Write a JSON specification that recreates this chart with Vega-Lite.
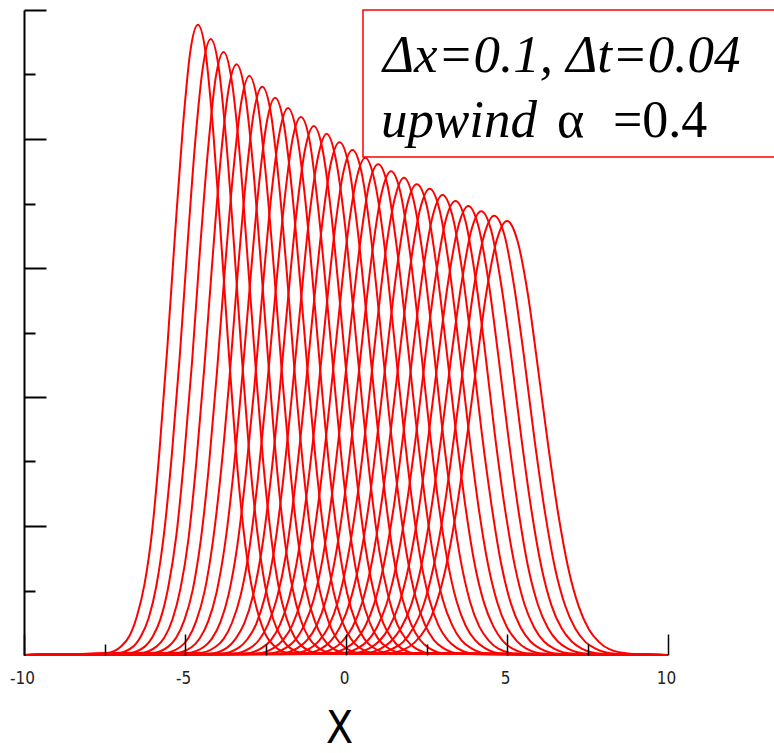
{
"$schema": "https://vega.github.io/schema/vega-lite/v6.json",
"width": 644, "height": 645,
"autosize": {"type": "none"},
"padding": {"left": 24, "top": 10, "right": 106, "bottom": 98},
"background": "white",
"config": {"view": {"stroke": null}},
"layer": [
{
"data": {"values": [
{"k":0,"x":[-10,-7.44,-6.97,-6.73,-6.50,-6.26,-6.02,-5.79,-5.55,-5.31,-5.07,-4.84,-4.6,-4.36,-4.13,-3.89,-3.65,-3.42,-3.18,-2.94,-2.70,-2.47,-2.23,-1.76,10],"y":[0,0.003,0.014,0.029,0.059,0.109,0.193,0.318,0.476,0.652,0.816,0.934,0.977,0.934,0.816,0.652,0.476,0.318,0.193,0.109,0.059,0.029,0.014,0.003,0]},
{"k":1,"x":[-10,-7.09,-6.61,-6.37,-6.13,-5.89,-5.65,-5.41,-5.16,-4.92,-4.68,-4.44,-4.2,-3.96,-3.72,-3.48,-3.24,-3.00,-2.75,-2.51,-2.27,-2.03,-1.79,-1.31,10],"y":[0,0.003,0.013,0.029,0.057,0.107,0.189,0.310,0.465,0.637,0.797,0.913,0.955,0.913,0.797,0.637,0.465,0.310,0.189,0.107,0.057,0.029,0.013,0.003,0]},
{"k":2,"x":[-10,-6.74,-6.25,-6.01,-5.76,-5.52,-5.27,-5.03,-4.78,-4.54,-4.29,-4.05,-3.8,-3.56,-3.31,-3.07,-2.82,-2.58,-2.33,-2.09,-1.84,-1.60,-1.35,-0.86,10],"y":[0,0.003,0.013,0.028,0.056,0.105,0.185,0.304,0.455,0.624,0.781,0.894,0.935,0.894,0.781,0.624,0.455,0.304,0.185,0.105,0.056,0.028,0.013,0.003,0]},
{"k":3,"x":[-10,-6.39,-5.89,-5.64,-5.39,-5.14,-4.89,-4.65,-4.40,-4.15,-3.90,-3.65,-3.4,-3.15,-2.90,-2.65,-2.40,-2.16,-1.91,-1.66,-1.41,-1.16,-0.91,-0.41,10],"y":[0,0.003,0.013,0.027,0.055,0.103,0.181,0.298,0.446,0.611,0.765,0.876,0.916,0.876,0.765,0.611,0.446,0.298,0.181,0.103,0.055,0.027,0.013,0.003,0]},
{"k":4,"x":[-10,-6.02,-5.52,-5.27,-5.02,-4.76,-4.51,-4.26,-4.01,-3.76,-3.50,-3.25,-3.0,-2.75,-2.50,-2.24,-1.99,-1.74,-1.49,-1.24,-0.98,-0.73,-0.48,0.02,10],"y":[0,0.003,0.013,0.027,0.054,0.101,0.178,0.292,0.437,0.599,0.750,0.858,0.898,0.858,0.750,0.599,0.437,0.292,0.178,0.101,0.054,0.027,0.013,0.003,0]},
{"k":5,"x":[-10,-5.67,-5.16,-4.90,-4.65,-4.39,-4.14,-3.88,-3.62,-3.37,-3.11,-2.86,-2.6,-2.34,-2.09,-1.83,-1.58,-1.32,-1.06,-0.81,-0.55,-0.30,-0.04,0.47,10],"y":[0,0.003,0.012,0.026,0.053,0.099,0.174,0.286,0.429,0.588,0.736,0.842,0.881,0.842,0.736,0.588,0.429,0.286,0.174,0.099,0.053,0.026,0.012,0.003,0]},
{"k":6,"x":[-10,-5.32,-4.80,-4.54,-4.28,-4.02,-3.76,-3.50,-3.24,-2.98,-2.72,-2.46,-2.2,-1.94,-1.68,-1.42,-1.16,-0.90,-0.64,-0.38,-0.12,0.14,0.40,0.92,10],"y":[0,0.003,0.012,0.026,0.052,0.097,0.171,0.281,0.421,0.576,0.721,0.826,0.864,0.826,0.721,0.576,0.421,0.281,0.171,0.097,0.052,0.026,0.012,0.003,0]},
{"k":7,"x":[-10,-4.96,-4.43,-4.17,-3.90,-3.64,-3.38,-3.12,-2.85,-2.59,-2.33,-2.06,-1.8,-1.54,-1.27,-1.01,-0.75,-0.49,-0.22,0.04,0.30,0.57,0.83,1.36,10],"y":[0,0.003,0.012,0.025,0.051,0.095,0.168,0.276,0.413,0.566,0.708,0.811,0.848,0.811,0.708,0.566,0.413,0.276,0.168,0.095,0.051,0.025,0.012,0.003,0]},
{"k":8,"x":[-10,-4.60,-4.07,-3.80,-3.54,-3.27,-3.00,-2.74,-2.47,-2.20,-1.93,-1.67,-1.4,-1.13,-0.87,-0.60,-0.33,-0.07,0.20,0.47,0.74,1.00,1.27,1.80,10],"y":[0,0.003,0.012,0.025,0.050,0.093,0.165,0.271,0.406,0.556,0.696,0.797,0.834,0.797,0.696,0.556,0.406,0.271,0.165,0.093,0.050,0.025,0.012,0.003,0]},
{"k":9,"x":[-10,-4.24,-3.70,-3.43,-3.16,-2.89,-2.62,-2.35,-2.08,-1.81,-1.54,-1.27,-1.0,-0.73,-0.46,-0.19,0.08,0.35,0.62,0.89,1.16,1.43,1.70,2.24,10],"y":[0,0.002,0.011,0.025,0.049,0.092,0.162,0.267,0.399,0.547,0.685,0.784,0.820,0.784,0.685,0.547,0.399,0.267,0.162,0.092,0.049,0.025,0.011,0.002,0]},
{"k":10,"x":[-10,-3.89,-3.34,-3.07,-2.79,-2.52,-2.24,-1.97,-1.70,-1.42,-1.15,-0.87,-0.6,-0.33,-0.05,0.22,0.50,0.77,1.04,1.32,1.59,1.87,2.14,2.69,10],"y":[0,0.002,0.011,0.024,0.048,0.090,0.160,0.263,0.393,0.539,0.675,0.772,0.808,0.772,0.675,0.539,0.393,0.263,0.160,0.090,0.048,0.024,0.011,0.002,0]},
{"k":11,"x":[-10,-3.52,-2.97,-2.69,-2.42,-2.14,-1.86,-1.59,-1.31,-1.03,-0.75,-0.48,-0.2,0.08,0.35,0.63,0.91,1.19,1.46,1.74,2.02,2.29,2.57,3.12,10],"y":[0,0.002,0.011,0.024,0.048,0.089,0.157,0.258,0.387,0.530,0.664,0.760,0.795,0.760,0.664,0.530,0.387,0.258,0.157,0.089,0.048,0.024,0.011,0.002,0]},
{"k":12,"x":[-10,-3.17,-2.61,-2.33,-2.05,-1.77,-1.49,-1.21,-0.92,-0.64,-0.36,-0.08,0.2,0.48,0.76,1.04,1.32,1.61,1.89,2.17,2.45,2.73,3.01,3.57,10],"y":[0,0.002,0.011,0.023,0.047,0.088,0.155,0.254,0.381,0.522,0.654,0.749,0.783,0.749,0.654,0.522,0.381,0.254,0.155,0.088,0.047,0.023,0.011,0.002,0]},
{"k":13,"x":[-10,-2.81,-2.24,-1.96,-1.67,-1.39,-1.10,-0.82,-0.54,-0.25,0.03,0.32,0.6,0.88,1.17,1.45,1.74,2.02,2.30,2.59,2.87,3.16,3.44,4.01,10],"y":[0,0.002,0.011,0.023,0.046,0.086,0.153,0.251,0.375,0.514,0.644,0.737,0.771,0.737,0.644,0.514,0.375,0.251,0.153,0.086,0.046,0.023,0.011,0.002,0]},
{"k":14,"x":[-10,-2.44,-1.87,-1.58,-1.30,-1.01,-0.72,-0.44,-0.15,0.14,0.43,0.71,1.0,1.29,1.57,1.86,2.15,2.44,2.72,3.01,3.30,3.58,3.87,4.44,10],"y":[0,0.002,0.011,0.023,0.046,0.085,0.151,0.247,0.371,0.508,0.635,0.728,0.761,0.728,0.635,0.508,0.371,0.247,0.151,0.085,0.046,0.023,0.011,0.002,0]},
{"k":15,"x":[-10,-2.08,-1.50,-1.21,-0.92,-0.63,-0.34,-0.05,0.24,0.53,0.82,1.11,1.4,1.69,1.98,2.27,2.56,2.85,3.14,3.43,3.72,4.01,4.30,4.88,10],"y":[0,0.002,0.011,0.023,0.045,0.084,0.149,0.244,0.365,0.500,0.626,0.717,0.750,0.717,0.626,0.500,0.365,0.244,0.149,0.084,0.045,0.023,0.011,0.002,0]},
{"k":16,"x":[-10,-1.72,-1.13,-0.84,-0.54,-0.25,0.04,0.34,0.63,0.92,1.21,1.51,1.8,2.09,2.39,2.68,2.97,3.27,3.56,3.85,4.14,4.44,4.73,5.32,10],"y":[0,0.002,0.010,0.022,0.044,0.083,0.147,0.241,0.360,0.494,0.618,0.707,0.740,0.707,0.618,0.494,0.360,0.241,0.147,0.083,0.044,0.022,0.010,0.002,0]},
{"k":17,"x":[-10,-1.36,-0.77,-0.47,-0.18,0.12,0.42,0.72,1.01,1.31,1.61,1.90,2.2,2.50,2.79,3.09,3.39,3.69,3.98,4.28,4.58,4.87,5.17,5.76,10],"y":[0,0.002,0.010,0.022,0.044,0.082,0.145,0.237,0.356,0.487,0.610,0.698,0.730,0.698,0.610,0.487,0.356,0.237,0.145,0.082,0.044,0.022,0.010,0.002,0]},
{"k":18,"x":[-10,-1.00,-0.40,-0.10,0.20,0.50,0.80,1.10,1.40,1.70,2.00,2.30,2.6,2.90,3.20,3.50,3.80,4.10,4.40,4.70,5.00,5.30,5.60,6.20,10],"y":[0,0.002,0.010,0.022,0.043,0.081,0.143,0.235,0.352,0.482,0.604,0.691,0.723,0.691,0.604,0.482,0.352,0.235,0.143,0.081,0.043,0.022,0.010,0.002,0]},
{"k":19,"x":[-10,-0.64,-0.03,0.27,0.58,0.88,1.18,1.49,1.79,2.09,2.39,2.70,3.0,3.30,3.61,3.91,4.21,4.52,4.82,5.12,5.42,5.73,6.03,6.64,10],"y":[0,0.002,0.010,0.021,0.043,0.080,0.141,0.232,0.347,0.476,0.595,0.682,0.713,0.682,0.595,0.476,0.347,0.232,0.141,0.080,0.043,0.021,0.010,0.002,0]},
{"k":20,"x":[-10,-0.27,0.34,0.65,0.95,1.26,1.56,1.87,2.18,2.48,2.79,3.09,3.4,3.71,4.01,4.32,4.62,4.93,5.24,5.54,5.85,6.15,6.46,7.07,10],"y":[0,0.002,0.010,0.021,0.042,0.079,0.139,0.229,0.343,0.470,0.588,0.673,0.704,0.673,0.588,0.470,0.343,0.229,0.139,0.079,0.042,0.021,0.010,0.002,0]},
{"k":21,"x":[-10,0.09,0.71,1.02,1.33,1.64,1.95,2.26,2.56,2.87,3.18,3.49,3.8,4.11,4.42,4.73,5.04,5.35,5.65,5.96,6.27,6.58,6.89,7.51,10],"y":[0,0.002,0.010,0.021,0.042,0.078,0.138,0.226,0.339,0.464,0.581,0.665,0.696,0.665,0.581,0.464,0.339,0.226,0.138,0.078,0.042,0.021,0.010,0.002,0]},
{"k":22,"x":[-10,0.46,1.08,1.39,1.70,2.02,2.33,2.64,2.95,3.26,3.58,3.89,4.2,4.51,4.82,5.14,5.45,5.76,6.07,6.38,6.70,7.01,7.32,7.94,10],"y":[0,0.002,0.010,0.021,0.041,0.077,0.136,0.224,0.335,0.459,0.574,0.658,0.688,0.658,0.574,0.459,0.335,0.224,0.136,0.077,0.041,0.021,0.010,0.002,0]},
{"k":23,"x":[-10,0.82,1.45,1.77,2.08,2.40,2.71,3.03,3.34,3.66,3.97,4.29,4.6,4.92,5.23,5.55,5.86,6.18,6.49,6.81,7.12,7.44,7.75,8.38,10],"y":[0,0.002,0.010,0.020,0.041,0.076,0.135,0.221,0.332,0.454,0.569,0.651,0.681,0.651,0.569,0.454,0.332,0.221,0.135,0.076,0.041,0.020,0.010,0.002,0]},
{"k":24,"x":[-10,1.18,1.82,2.14,2.46,2.77,3.09,3.41,3.73,4.05,4.36,4.68,5.0,5.32,5.64,5.95,6.27,6.59,6.91,7.23,7.54,7.86,8.18,8.82,10],"y":[0,0.002,0.009,0.020,0.040,0.075,0.133,0.219,0.328,0.449,0.562,0.643,0.673,0.643,0.562,0.449,0.328,0.219,0.133,0.075,0.040,0.020,0.009,0.002,0]}
]},
"transform": [{"flatten": ["x", "y"]}],
"mark": {"type": "line", "color": "#ff0000", "strokeWidth": 2, "interpolate": "monotone"},
"encoding": {
"x": {"field": "x", "type": "quantitative",
"scale": {"domain": [-10, 10], "nice": false, "zero": false},
"axis": {"values": [-10, -7.5, -5, -2.5, 0, 2.5, 5, 7.5, 10], "domain": false, "grid": false,
"tickColor": "black", "tickWidth": 1.5,
"tickSize": {"condition": {"test": "datum.value % 5 === 0", "value": -21}, "value": -11},
"labelExpr": "datum.value % 5 === 0 ? '' + datum.value : ''",
"labelFont": "Liberation Sans Narrow, DejaVu Sans Condensed, sans-serif", "labelFontSize": 17, "labelColor": "#222222",
"labelPadding": 36, "labelOffset": -2, "labelFlush": false, "labelOverlap": false,
"title": "X", "titleFont": "Liberation Sans Narrow, DejaVu Sans Condensed, sans-serif", "titleFontSize": 44,
"titleFontWeight": "normal", "titleColor": "black", "titleX": 315, "titleY": 96,
"titleBaseline": "bottom", "titleAlign": "center", "zindex": 1}},
"y": {"field": "y", "type": "quantitative",
"scale": {"domain": [0, 1], "nice": false},
"axis": {"values": [0.1, 0.2, 0.3, 0.4, 0.5, 0.6, 0.7, 0.8, 0.9, 1], "labels": false, "title": null, "grid": false,
"domainColor": "black", "domainWidth": 2, "tickColor": "black", "tickWidth": 2,
"tickSize": {"condition": {"test": "round(datum.value * 10) % 2 === 0", "value": -22}, "value": -11},
"zindex": 1}},
"detail": {"field": "k", "type": "nominal"}
}
},
{
"data": {"values": [{}]},
"mark": {"type": "rect", "fill": "white", "fillOpacity": 0, "stroke": "#ff0000", "strokeWidth": 1.5},
"encoding": {
"x": {"datum": 0.528, "type": "quantitative"},
"x2": {"datum": 13.6},
"y": {"datum": 1.0, "type": "quantitative"},
"y2": {"datum": 0.772}
}
},
{
"data": {"values": [{}]},
"mark": {"type": "text", "text": "Δx=0.1, Δt=0.04", "align": "left", "baseline": "alphabetic", "font": "Liberation Serif", "fontSize": 53, "fontStyle": "italic", "color": "black"},
"encoding": {"x": {"datum": 1.149, "type": "quantitative"}, "y": {"datum": 0.904, "type": "quantitative"}}
},
{
"data": {"values": [{}]},
"mark": {"type": "text", "text": "upwind", "align": "left", "baseline": "alphabetic", "font": "Liberation Serif", "fontSize": 53, "fontStyle": "italic", "color": "black"},
"encoding": {"x": {"datum": 1.087, "type": "quantitative"}, "y": {"datum": 0.803, "type": "quantitative"}}
},
{
"data": {"values": [{}]},
"mark": {"type": "text", "text": "α", "align": "left", "baseline": "alphabetic", "font": "Liberation Serif", "fontSize": 52, "color": "black"},
"encoding": {"x": {"datum": 6.553, "type": "quantitative"}, "y": {"datum": 0.803, "type": "quantitative"}}
},
{
"data": {"values": [{}]},
"mark": {"type": "text", "text": "=0.4", "align": "left", "baseline": "alphabetic", "font": "Liberation Serif", "fontSize": 52, "color": "black"},
"encoding": {"x": {"datum": 8.292, "type": "quantitative"}, "y": {"datum": 0.803, "type": "quantitative"}}
}
]
}
